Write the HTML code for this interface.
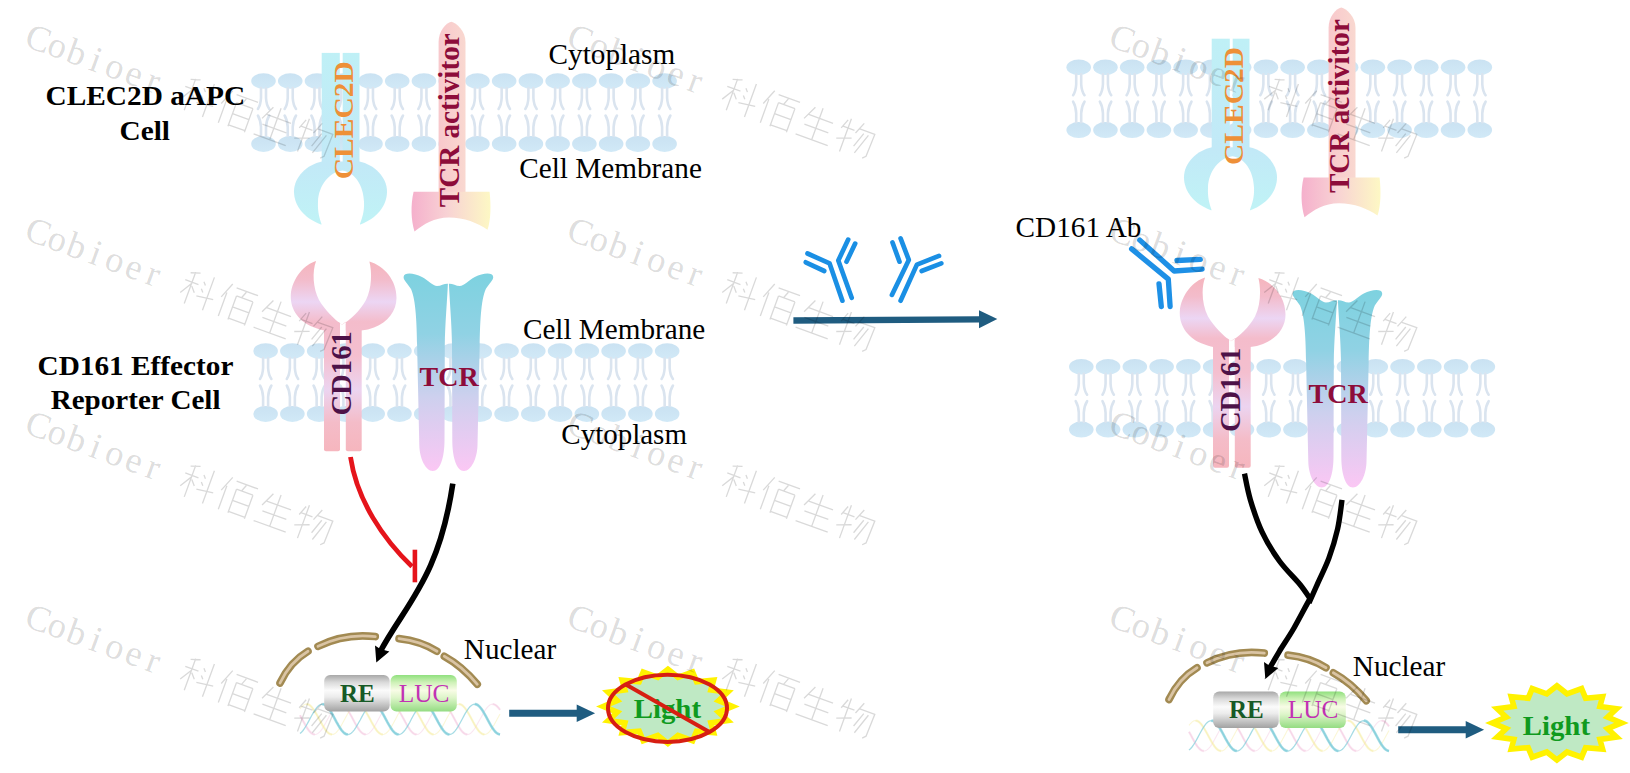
<!DOCTYPE html><html><head><meta charset="utf-8"><style>html,body{margin:0;padding:0;background:#fff;width:1630px;height:773px;overflow:hidden}svg{display:block}text{font-family:"Liberation Serif",serif}</style></head><body>
<svg width="1630" height="773" viewBox="0 0 1630 773">
<defs>

<linearGradient id="gCLEC" gradientUnits="userSpaceOnUse" x1="0" y1="53" x2="0" y2="224"><stop offset="0" stop-color="#bff0f6"/><stop offset="0.65" stop-color="#c2e9f7"/><stop offset="1" stop-color="#c0f3f6"/></linearGradient>
<linearGradient id="gHead" x1="0" y1="0" x2="0" y2="1"><stop offset="0" stop-color="#cae2f2"/><stop offset="1" stop-color="#d1e9f7"/></linearGradient>
<linearGradient id="gTcrA" x1="0" y1="0" x2="1" y2="0"><stop offset="0" stop-color="#f5b0cc"/><stop offset="0.45" stop-color="#f8d2d4"/><stop offset="1" stop-color="#fdf8c4"/></linearGradient>
<linearGradient id="gTcrBar" x1="0" y1="0" x2="1" y2="0"><stop offset="0" stop-color="#f8c8cc"/><stop offset="1" stop-color="#f9d8d0"/></linearGradient>
<linearGradient id="gTCR" gradientUnits="userSpaceOnUse" x1="0" y1="275" x2="0" y2="471"><stop offset="0" stop-color="#7ed2e0"/><stop offset="0.3" stop-color="#90d2e4"/><stop offset="0.62" stop-color="#cdd0ee"/><stop offset="1" stop-color="#fbc7f4"/></linearGradient>
<linearGradient id="gCD" gradientUnits="userSpaceOnUse" x1="0" y1="261" x2="0" y2="451"><stop offset="0" stop-color="#f5b5bd"/><stop offset="0.1" stop-color="#f3bccb"/><stop offset="0.215" stop-color="#ecd6f4"/><stop offset="0.32" stop-color="#f4bccb"/><stop offset="0.5" stop-color="#f4bfcf"/><stop offset="0.68" stop-color="#ecd4f0"/><stop offset="0.85" stop-color="#f4bcc8"/><stop offset="1" stop-color="#f6b6be"/></linearGradient>
<linearGradient id="gRE" x1="0" y1="0" x2="0" y2="1"><stop offset="0" stop-color="#a8a8a8"/><stop offset="0.2" stop-color="#dadada"/><stop offset="0.42" stop-color="#fbfbfb"/><stop offset="0.6" stop-color="#ececec"/><stop offset="1" stop-color="#a2a2a2"/></linearGradient>
<linearGradient id="gLUC" x1="0" y1="0" x2="0" y2="1"><stop offset="0" stop-color="#90e07e"/><stop offset="0.2" stop-color="#cdf1b6"/><stop offset="0.42" stop-color="#f8fce6"/><stop offset="0.62" stop-color="#def5ca"/><stop offset="1" stop-color="#94dc82"/></linearGradient>
<mask id="mHole" maskUnits="userSpaceOnUse" x="270" y="30" width="140" height="220"><rect x="270" y="30" width="140" height="220" fill="#fff"/>
<path d="M342.5,170.5 C329,172 318.5,186 318,201.7 C317.5,212 319.5,218 321.5,224 L321.5,250 L360,250 L360,224 C362,218 364.5,212 364,201.7 C363.5,186 355,172 342.5,170.5 Z" fill="#000"/></mask>

<g id="lip">
<ellipse cx="0" cy="0" rx="12.3" ry="7.8" fill="url(#gHead)"/>
<ellipse cx="0" cy="62.9" rx="12.3" ry="8" fill="url(#gHead)"/>
<g fill="none" stroke="#dae4ef" stroke-width="2.6" stroke-linecap="round">
<path d="M-2.5,7 L-2.5,17 Q-2.9,24 -5.6,28"/><path d="M2.5,7 L2.5,17 Q2.9,24 5.8,28"/>
<path d="M-2.5,55 L-2.5,46 Q-2.9,39 -5.6,34.5"/><path d="M2.5,55 L2.5,46 Q2.9,39 5.8,34.5"/>
</g></g>
<g id="memT"><use href="#lip" transform="translate(263.50,81.00)"/><use href="#lip" transform="translate(290.24,81.00)"/><use href="#lip" transform="translate(316.98,81.00)"/><use href="#lip" transform="translate(343.72,81.00)"/><use href="#lip" transform="translate(370.46,81.00)"/><use href="#lip" transform="translate(397.20,81.00)"/><use href="#lip" transform="translate(423.94,81.00)"/><use href="#lip" transform="translate(450.68,81.00)"/><use href="#lip" transform="translate(477.42,81.00)"/><use href="#lip" transform="translate(504.16,81.00)"/><use href="#lip" transform="translate(530.90,81.00)"/><use href="#lip" transform="translate(557.64,81.00)"/><use href="#lip" transform="translate(584.38,81.00)"/><use href="#lip" transform="translate(611.12,81.00)"/><use href="#lip" transform="translate(637.86,81.00)"/><use href="#lip" transform="translate(664.60,81.00)"/></g>
<g id="memB"><use href="#lip" transform="translate(265.60,351.00)"/><use href="#lip" transform="translate(292.37,351.00)"/><use href="#lip" transform="translate(319.14,351.00)"/><use href="#lip" transform="translate(345.91,351.00)"/><use href="#lip" transform="translate(372.68,351.00)"/><use href="#lip" transform="translate(399.45,351.00)"/><use href="#lip" transform="translate(426.22,351.00)"/><use href="#lip" transform="translate(452.99,351.00)"/><use href="#lip" transform="translate(479.76,351.00)"/><use href="#lip" transform="translate(506.53,351.00)"/><use href="#lip" transform="translate(533.30,351.00)"/><use href="#lip" transform="translate(560.07,351.00)"/><use href="#lip" transform="translate(586.84,351.00)"/><use href="#lip" transform="translate(613.61,351.00)"/><use href="#lip" transform="translate(640.38,351.00)"/><use href="#lip" transform="translate(667.15,351.00)"/></g>
<g id="recT">
<g fill="url(#gCLEC)" mask="url(#mHole)">
<rect x="321.7" y="52.9" width="18.1" height="125"/>
<rect x="342.7" y="52.9" width="16.8" height="125"/>
<path d="M322,161.5 C307,164.5 294,177 294,191.5 C294,206 304,218 321,224.5 L360.4,224.5 C377,218 387,206 387,191.5 C387,177 374,164.5 359.5,161.5 Z"/>
</g>
<path fill="url(#gTcrBar)" d="M438.6,200 L438.6,42 C438.6,31 446,23 451.3,21.8 C456.5,23 465.5,31 465.5,42 L465.5,200 Z"/>
<path fill="url(#gTcrA)" d="M413.6,191.7 L489.6,191.7 C491,205 491,220 487.5,229.7 C478,223 464,217.5 449,217.5 C434,217.5 424,224 414.5,231.5 C411,220 410.5,205 413.6,191.7 Z"/>
<text transform="translate(352.80,177.80) rotate(-90) scale(1.0549,1)" x="-1.40" y="0" font-size="28" font-weight="bold" fill="#ee9038" >CLEC2D</text>
<text transform="translate(458.80,206.70) rotate(-90) scale(1.0189,1)" x="-0.57" y="0" font-size="28.6" font-weight="bold" fill="#8d0c3a" >TCR activitor</text>
</g>
<g id="recB">
<g fill="url(#gCD)">
<rect x="324" y="322" width="16" height="129.3" rx="2"/>
<rect x="345.8" y="322" width="15.9" height="129.3" rx="2"/>
<path d="M316.1,261 C305,264 292,278 290.8,295 C290,310 300,322 313,327 C318,329 321,330 324.3,330.5 L340,330.5 L340,323.3 L342,324.6 L345.8,321.8 L345.8,330.5 L361.2,330.5 C366,330 370,329 374,327.5 C388,322 396.5,311 396.5,298 C396.5,280 384,266 369.4,261.6 C372,272 372,288 366,300 C360,311 350,320 342,324.8 C334,319 325,310 319,300 C313,288 312,272 316.1,261 Z"/>
</g>
<path id="tcrL" fill="url(#gTCR)" d="M403.6,277 C404,272 414,273 422,277 C428,280 433,286 437,286 C441,286 444.5,283.5 447.9,283.8 C447.2,300 445,325 444.8,345 L444.5,440 C444.5,458 440,471 432.8,471 C425.5,471 419.5,458 419.3,445 L417.1,345 C416.8,325 416,300 411,289 C408,284 403.3,280 403.6,277 Z"/>
<path fill="url(#gTCR)" transform="translate(896.8,0) scale(-1,1)" d="M403.6,277 C404,272 414,273 422,277 C428,280 433,286 437,286 C441,286 444.5,283.5 447.9,283.8 C447.2,300 445,325 444.8,345 L444.5,440 C444.5,458 440,471 432.8,471 C425.5,471 419.5,458 419.3,445 L417.1,345 C416.8,325 416,300 411,289 C408,284 403.3,280 403.6,277 Z"/>
<text transform="translate(351.20,414.20) rotate(-90) scale(1.0034,1)" x="-1.43" y="0" font-size="28.6" font-weight="bold" fill="#4d1248" >CD161</text>
<text transform="translate(420.00,386.40) scale(1.0388,1)" x="-0.54" y="0" font-size="27" font-weight="bold" fill="#8d0c3a" >TCR</text>
</g>
<g id="nuc">
<g><polyline fill="none" stroke="#f2b8d8" stroke-opacity="0.35" stroke-width="1.1" points="300.0,715.2 301.5,718.0 303.0,720.8 304.5,723.6 306.0,726.2 307.5,728.6 309.0,730.7 310.5,732.3 312.0,733.6 313.5,734.3 315.0,734.5 316.5,734.2 318.0,733.4 319.5,732.1 321.1,730.3 322.6,728.2 324.1,725.7 325.6,723.1 327.1,720.3 328.6,717.5 330.1,714.7 331.6,712.1 333.1,709.8 334.6,707.7 336.1,706.1 337.6,704.9 339.1,704.3 340.6,704.1 342.1,704.5 343.6,705.4 345.1,706.7 346.6,708.5 348.1,710.7 349.6,713.1 351.1,715.8 352.6,718.6 354.1,721.4 355.6,724.2 357.1,726.8 358.6,729.1 360.2,731.1 361.7,732.6 363.2,733.8 364.7,734.4 366.2,734.5 367.7,734.1 369.2,733.1 370.7,731.7 372.2,729.9 373.7,727.7 375.2,725.2 376.7,722.5 378.2,719.7 379.7,716.9 381.2,714.1 382.7,711.6 384.2,709.3 385.7,707.3 387.2,705.8 388.7,704.8 390.2,704.2 391.7,704.1 393.2,704.6 394.7,705.6 396.2,707.1 397.7,709.0 399.2,711.2 400.8,713.7 402.3,716.4 403.8,719.2 405.3,722.0 406.8,724.8 408.3,727.3 409.8,729.5 411.3,731.4 412.8,732.9 414.3,733.9 415.8,734.4 417.3,734.4 418.8,733.9 420.3,732.9 421.8,731.3 423.3,729.4 424.8,727.2 426.3,724.6 427.8,721.9 429.3,719.1 430.8,716.3 432.3,713.6 433.8,711.1 435.3,708.8 436.8,707.0 438.3,705.5 439.8,704.6 441.4,704.1 442.9,704.2 444.4,704.8 445.9,705.9 447.4,707.4 448.9,709.4 450.4,711.7 451.9,714.3 453.4,717.0 454.9,719.8 456.4,722.6 457.9,725.3 459.4,727.8 460.9,730.0 462.4,731.8 463.9,733.2 465.4,734.1 466.9,734.5 468.4,734.4 469.9,733.7 471.4,732.6 472.9,731.0 474.4,729.0 475.9,726.6 477.4,724.0 478.9,721.3 480.5,718.5 482.0,715.7 483.5,713.0 485.0,710.5 486.5,708.4 488.0,706.6 489.5,705.3 491.0,704.4 492.5,704.1 494.0,704.3 495.5,705.0 497.0,706.2 498.5,707.8 500.0,709.9"/><polyline fill="none" stroke="#f2b8d8" stroke-opacity="0.35" stroke-width="2.3" points="300.0,715.2 301.7,718.3 303.3,721.4 305.0,724.4 306.6,727.2 308.3,729.7 309.9,731.7 311.6,733.2 313.2,734.2 314.9,734.5"/><polyline fill="none" stroke="#f2b8d8" stroke-opacity="0.35" stroke-width="2.3" points="340.3,704.1 341.9,704.4 343.5,705.3 345.1,706.7 346.6,708.6 348.2,710.9 349.8,713.5 351.4,716.3 353.0,719.3 354.6,722.3 356.2,725.1 357.8,727.7 359.3,730.0 360.9,731.9 362.5,733.3 364.1,734.2 365.7,734.5"/><polyline fill="none" stroke="#f2b8d8" stroke-opacity="0.35" stroke-width="2.3" points="391.1,704.1 392.7,704.4 394.3,705.3 395.9,706.7 397.4,708.6 399.0,710.9 400.6,713.5 402.2,716.3 403.8,719.3 405.4,722.3 407.0,725.1 408.6,727.7 410.1,730.0 411.7,731.9 413.3,733.3 414.9,734.2 416.5,734.5"/><polyline fill="none" stroke="#f2b8d8" stroke-opacity="0.35" stroke-width="2.3" points="441.9,704.1 443.5,704.4 445.1,705.3 446.7,706.7 448.2,708.6 449.8,710.9 451.4,713.5 453.0,716.3 454.6,719.3 456.2,722.3 457.8,725.1 459.4,727.7 460.9,730.0 462.5,731.9 464.1,733.3 465.7,734.2 467.3,734.5"/><polyline fill="none" stroke="#f2b8d8" stroke-opacity="0.35" stroke-width="2.3" points="492.7,704.1 494.5,704.5 496.3,705.6 498.2,707.5 500.0,709.9"/><polyline fill="none" stroke="#f4ec98" stroke-opacity="0.4" stroke-width="1.1" points="300.0,708.9 301.5,707.0 303.0,705.6 304.5,704.6 306.0,704.1 307.5,704.2 309.0,704.8 310.5,705.9 312.0,707.4 313.5,709.4 315.0,711.7 316.5,714.2 318.0,717.0 319.5,719.8 321.1,722.6 322.6,725.3 324.1,727.7 325.6,729.9 327.1,731.8 328.6,733.2 330.1,734.1 331.6,734.5 333.1,734.4 334.6,733.7 336.1,732.6 337.6,731.0 339.1,729.0 340.6,726.7 342.1,724.1 343.6,721.3 345.1,718.5 346.6,715.7 348.1,713.1 349.6,710.6 351.1,708.4 352.6,706.7 354.1,705.3 355.6,704.5 357.1,704.1 358.6,704.3 360.2,705.0 361.7,706.2 363.2,707.8 364.7,709.8 366.2,712.2 367.7,714.8 369.2,717.6 370.7,720.4 372.2,723.2 373.7,725.8 375.2,728.2 376.7,730.4 378.2,732.1 379.7,733.4 381.2,734.2 382.7,734.5 384.2,734.3 385.7,733.5 387.2,732.3 388.7,730.6 390.2,728.5 391.7,726.1 393.2,723.5 394.7,720.7 396.2,717.9 397.7,715.1 399.2,712.5 400.8,710.1 402.3,708.0 403.8,706.3 405.3,705.1 406.8,704.3 408.3,704.1 409.8,704.4 411.3,705.2 412.8,706.5 414.3,708.2 415.8,710.3 417.3,712.7 418.8,715.4 420.3,718.2 421.8,721.0 423.3,723.8 424.8,726.4 426.3,728.7 427.8,730.8 429.3,732.4 430.8,733.6 432.3,734.3 433.8,734.5 435.3,734.2 436.8,733.3 438.3,732.0 439.8,730.2 441.4,728.0 442.9,725.6 444.4,722.9 445.9,720.1 447.4,717.3 448.9,714.5 450.4,712.0 451.9,709.6 453.4,707.6 454.9,706.0 456.4,704.9 457.9,704.2 459.4,704.1 460.9,704.5 462.4,705.4 463.9,706.8 465.4,708.6 466.9,710.8 468.4,713.3 469.9,716.0 471.4,718.8 472.9,721.6 474.4,724.3 475.9,726.9 477.4,729.2 478.9,731.2 480.5,732.7 482.0,733.8 483.5,734.4 485.0,734.5 486.5,734.0 488.0,733.0 489.5,731.6 491.0,729.7 492.5,727.5 494.0,725.0 495.5,722.3 497.0,719.5 498.5,716.7 500.0,714.0"/><polyline fill="none" stroke="#f4ec98" stroke-opacity="0.4" stroke-width="2.3" points="306.6,704.1 308.2,704.4 309.8,705.3 311.4,706.7 312.9,708.6 314.5,710.9 316.1,713.5 317.7,716.3 319.3,719.3 320.9,722.3 322.5,725.1 324.1,727.7 325.6,730.0 327.2,731.9 328.8,733.3 330.4,734.2 332.0,734.5"/><polyline fill="none" stroke="#f4ec98" stroke-opacity="0.4" stroke-width="2.3" points="357.4,704.1 359.0,704.4 360.6,705.3 362.2,706.7 363.8,708.6 365.3,710.9 366.9,713.5 368.5,716.3 370.1,719.3 371.7,722.3 373.3,725.1 374.9,727.7 376.4,730.0 378.0,731.9 379.6,733.3 381.2,734.2 382.8,734.5"/><polyline fill="none" stroke="#f4ec98" stroke-opacity="0.4" stroke-width="2.3" points="408.2,704.1 409.8,704.4 411.4,705.3 413.0,706.7 414.5,708.6 416.1,710.9 417.7,713.5 419.3,716.3 420.9,719.3 422.5,722.3 424.1,725.1 425.7,727.7 427.2,730.0 428.8,731.9 430.4,733.3 432.0,734.2 433.6,734.5"/><polyline fill="none" stroke="#f4ec98" stroke-opacity="0.4" stroke-width="2.3" points="459.0,704.1 460.6,704.4 462.2,705.3 463.8,706.7 465.4,708.6 466.9,710.9 468.5,713.5 470.1,716.3 471.7,719.3 473.3,722.3 474.9,725.1 476.5,727.7 478.0,730.0 479.6,731.9 481.2,733.3 482.8,734.2 484.4,734.5"/><polyline fill="none" stroke="#7ccbd8" stroke-opacity="0.68" stroke-width="1.3" points="300.0,733.5 301.5,732.2 303.0,730.5 304.5,728.4 306.0,726.0 307.5,723.4 309.0,720.6 310.5,717.7 312.0,715.0 313.5,712.4 315.0,710.0 316.5,707.9 318.0,706.3 319.5,705.0 321.1,704.3 322.6,704.1 324.1,704.4 325.6,705.2 327.1,706.6 328.6,708.3 330.1,710.4 331.6,712.9 333.1,715.5 334.6,718.3 336.1,721.2 337.6,723.9 339.1,726.5 340.6,728.9 342.1,730.9 343.6,732.5 345.1,733.7 346.6,734.3 348.1,734.5 349.6,734.1 351.1,733.2 352.6,731.9 354.1,730.1 355.6,727.9 357.1,725.4 358.6,722.8 360.2,720.0 361.7,717.1 363.2,714.4 364.7,711.8 366.2,709.5 367.7,707.5 369.2,705.9 370.7,704.8 372.2,704.2 373.7,704.1 375.2,704.6 376.7,705.5 378.2,706.9 379.7,708.8 381.2,711.0 382.7,713.5 384.2,716.1 385.7,719.0 387.2,721.8 388.7,724.5 390.2,727.0 391.7,729.3 393.2,731.3 394.7,732.8 396.2,733.9 397.7,734.4 399.2,734.5 400.8,734.0 402.3,733.0 403.8,731.5 405.3,729.6 406.8,727.4 408.3,724.9 409.8,722.2 411.3,719.3 412.8,716.5 414.3,713.8 415.8,711.3 417.3,709.0 418.8,707.1 420.3,705.7 421.8,704.7 423.3,704.2 424.8,704.2 426.3,704.7 427.8,705.8 429.3,707.3 430.8,709.2 432.3,711.5 433.8,714.0 435.3,716.8 436.8,719.6 438.3,722.4 439.8,725.1 441.4,727.6 442.9,729.8 444.4,731.6 445.9,733.1 447.4,734.0 448.9,734.5 450.4,734.4 451.9,733.8 453.4,732.7 454.9,731.1 456.4,729.2 457.9,726.9 459.4,724.3 460.9,721.5 462.4,718.7 463.9,715.9 465.4,713.2 466.9,710.8 468.4,708.6 469.9,706.8 471.4,705.4 472.9,704.5 474.4,704.1 475.9,704.3 477.4,704.9 478.9,706.1 480.5,707.7 482.0,709.7 483.5,712.0 485.0,714.6 486.5,717.4 488.0,720.2 489.5,723.0 491.0,725.6 492.5,728.1 494.0,730.2 495.5,732.0 497.0,733.3 498.5,734.2 500.0,734.5"/><polyline fill="none" stroke="#7ccbd8" stroke-opacity="0.68" stroke-width="2.7" points="322.4,704.1 324.0,704.4 325.6,705.3 327.2,706.7 328.8,708.6 330.3,710.9 331.9,713.5 333.5,716.3 335.1,719.3 336.7,722.3 338.3,725.1 339.9,727.7 341.4,730.0 343.0,731.9 344.6,733.3 346.2,734.2 347.8,734.5"/><polyline fill="none" stroke="#7ccbd8" stroke-opacity="0.68" stroke-width="2.7" points="373.2,704.1 374.8,704.4 376.4,705.3 378.0,706.7 379.5,708.6 381.1,710.9 382.7,713.5 384.3,716.3 385.9,719.3 387.5,722.3 389.1,725.1 390.7,727.7 392.2,730.0 393.8,731.9 395.4,733.3 397.0,734.2 398.6,734.5"/><polyline fill="none" stroke="#7ccbd8" stroke-opacity="0.68" stroke-width="2.7" points="424.0,704.1 425.6,704.4 427.2,705.3 428.8,706.7 430.4,708.6 431.9,710.9 433.5,713.5 435.1,716.3 436.7,719.3 438.3,722.3 439.9,725.1 441.5,727.7 443.0,730.0 444.6,731.9 446.2,733.3 447.8,734.2 449.4,734.5"/><polyline fill="none" stroke="#7ccbd8" stroke-opacity="0.68" stroke-width="2.7" points="474.8,704.1 476.4,704.4 477.9,705.2 479.5,706.6 481.1,708.5 482.7,710.8 484.2,713.4 485.8,716.2 487.4,719.1 489.0,722.1 490.5,724.9 492.1,727.5 493.7,729.8 495.3,731.8 496.9,733.2 498.4,734.1 500.0,734.5"/></g>
<g fill="none" stroke-linecap="round">
<g stroke="#a28a52" stroke-width="7.6"><path d="M280,683 Q290,662 308,651.3"/><path d="M318,646.3 Q345,633 375.3,636.6"/><path d="M399,638.6 Q421,641 437,651.3"/><path d="M444.3,656.3 Q462,666 477.3,684.3"/></g>
<g stroke="#dac4a4" stroke-width="2.8"><path d="M280,683 Q290,662 308,651.3"/><path d="M318,646.3 Q345,633 375.3,636.6"/><path d="M399,638.6 Q421,641 437,651.3"/><path d="M444.3,656.3 Q462,666 477.3,684.3"/></g>
</g>
<rect x="324.2" y="675" width="65.5" height="36.5" rx="6" fill="url(#gRE)"/>
<rect x="390.5" y="675" width="66.3" height="36.5" rx="6" fill="url(#gLUC)"/>
<text transform="translate(340.40,701.70) scale(1.0235,1)" x="-0.49" y="0" font-size="24.5" font-weight="bold" fill="#175a26" >RE</text>
<text transform="translate(399.40,701.70) scale(1.0364,1)" x="-0.73" y="0" font-size="24.5" font-weight="normal" fill="#c232b4" >LUC</text>
<text transform="translate(464.70,659.40) scale(1.0235,1)" x="-0.85" y="0" font-size="28.5" font-weight="normal" fill="#000" >Nuclear</text>
<path fill="#1f5c80" d="M509.2,709.8 L576.7,709.8 L576.7,704.5 L595.1,713.3 L576.7,722.1 L576.7,716.7 L509.2,716.7 Z"/>
</g>
<g id="burst">
<polygon points="667.9,669.3 678.0,677.3 692.6,672.1 696.6,681.7 713.6,680.2 710.9,689.9 727.6,692.2 718.6,700.6 732.5,706.4 718.6,712.2 727.6,720.6 710.9,722.9 713.6,732.6 696.6,731.1 692.6,740.7 678.0,735.5 667.9,743.5 657.8,735.5 643.2,740.7 639.2,731.1 622.2,732.6 624.9,722.9 608.2,720.6 617.2,712.2 603.3,706.4 617.2,700.6 608.2,692.2 624.9,689.9 622.2,680.2 639.2,681.7 643.2,672.1 657.8,677.3" fill="#bfe9c4" stroke="#fff200" stroke-width="5.6" stroke-linejoin="miter"/>
<text transform="translate(634.20,718.30) scale(1.0312,1)" x="-0.56" y="0" font-size="28" font-weight="bold" fill="#0f9a1e" >Light</text>
</g>
<g id="wm"><text x="-2.0 21.5 41.9 66.3 82.7 104.1 126.5" y="0" font-size="36.5" fill="#000" fill-opacity="0.15">Cobioer</text><path transform="translate(161.2,-31) scale(0.38)" d="M15,14 L40,6 M8,36 L45,36 M27,8 L27,96 M27,40 L7,72 M30,46 L42,60 M56,24 L63,32 M56,44 L63,52 M50,66 L95,60 M78,4 L78,96" fill="none" stroke="#000" stroke-opacity="0.15" stroke-width="3.5"/><path transform="translate(202.0,-31) scale(0.38)" d="M22,4 L5,46 M15,30 L15,96 M35,10 L95,10 M63,12 L56,30 M42,30 L42,96 M88,30 L88,96 M42,30 L88,30 M42,61 L88,61 M42,92 L88,92" fill="none" stroke="#000" stroke-opacity="0.15" stroke-width="3.5"/><path transform="translate(242.8,-31) scale(0.38)" d="M30,8 L12,46 M20,32 L88,32 M50,4 L50,92 M18,60 L85,60 M5,92 L95,92" fill="none" stroke="#000" stroke-opacity="0.15" stroke-width="3.5"/><path transform="translate(283.6,-31) scale(0.38)" d="M15,10 L5,36 M8,30 L40,30 M22,4 L22,96 M2,66 L40,52 M58,4 L45,36 M52,22 L94,22 L92,84 L84,92 M66,30 L52,70 M79,30 L60,86" fill="none" stroke="#000" stroke-opacity="0.15" stroke-width="3.5"/></g>
</defs>
<use href="#memT"/>
<use href="#memT" transform="translate(815.2,-13.8)"/>
<use href="#memB"/>
<use href="#memB" transform="translate(815.7,15.7)"/>
<use href="#recT"/>
<use href="#recT" transform="translate(890,-14.2)"/>
<use href="#recB"/>
<use href="#recB" transform="translate(889,16.5)"/>
<use href="#nuc"/>
<use href="#nuc" transform="translate(889,16.5)"/>
<use href="#burst"/>
<use href="#burst" transform="translate(889,16.5)"/>
<g fill="none" stroke-linecap="butt">
<path d="M350.5,457 C357,500.6 383.4,539.2 412,566.5" stroke="#e5141b" stroke-width="4.8"/>
<path d="M414.9,549.7 L414.9,582.3" stroke="#e5141b" stroke-width="4.6"/>
<path d="M452.8,483.6 C438.7,578.4 406.4,602.9 380,652" stroke="#000" stroke-width="5.6"/>
</g>
<path d="M376.3,662.4 L375,645.4 Q379,648.5 382.4,649.6 Q385.5,650.5 389.4,651.4 Z" fill="#000"/>
<g fill="none" stroke="#d71e12" stroke-width="4">
<ellipse cx="667.5" cy="708.3" rx="59.5" ry="33.6"/>
<path d="M625.8,684.5 L709.4,732"/>
</g>
<g fill="none" stroke="#1a8fe4" stroke-width="4.7" stroke-linecap="round" stroke-linejoin="round">
<polyline points="807.5,253.5 829.6,263.4 842.4,300.7"/>
<polyline points="805.7,262.3 824.3,271"/>
<polyline points="848.2,239.6 838.3,260.5 851.7,297.8"/>
<polyline points="855.2,243.6 846.5,261.7"/>
<polyline points="900.6,238.4 908.8,259.9 891.9,294.9"/>
<polyline points="892.5,242.5 899.5,261.7"/>
<polyline points="939,255.9 916.9,264.6 900.6,300.7"/>
<polyline points="941.4,263.4 921.6,271"/>
</g>
<path fill="#1f5c80" d="M793.4,317.2 L979,316.2 L979,310.2 L997.3,319 L979,328.2 L979,322.6 L793.4,323.7 Z"/>
<g fill="none" stroke="#1e90e6" stroke-width="5.3" stroke-linecap="round" stroke-linejoin="round">
<polyline points="1131.6,248.9 1168.3,279.1 1170.1,306.5"/>
<polyline points="1159,283.8 1161.3,306.5"/>
<polyline points="1139.8,240.1 1174.1,271 1202.1,269.2"/>
<polyline points="1177,260.5 1200.3,259.3"/>
</g>
<g fill="none" stroke="#000" stroke-width="5.4">
<path d="M1244.5,473.7 C1245.5,478.1 1247.5,490.2 1250.4,499.9 C1253.3,509.6 1257.2,521.7 1262.0,531.9 C1266.8,542.1 1273.1,552.3 1279.4,561.0 C1285.7,569.7 1294.5,577.8 1299.8,584.3 C1305.1,590.8 1309.1,597.4 1311.0,600.0"/>
<path d="M1342.0,499.9 C1341.3,504.8 1339.8,519.3 1337.6,529.0 C1335.4,538.7 1332.3,548.9 1328.9,558.1 C1325.5,567.3 1320.6,576.8 1317.3,584.3 C1314.0,591.8 1310.4,599.9 1309.0,603.0"/>
<path d="M1311,597 C1307.3,603.0 1299.1,619.1 1294.0,628.0 C1288.9,636.9 1283.1,645.1 1279.4,651.3 C1275.7,657.5 1272,664.5 1269.5,668"/>
</g>
<path d="M1265.3,678.9 L1264,661.9 Q1268,665 1271.4,666.1 Q1274.5,667 1278.4,667.9 Z" fill="#000"/>

<g>
<text transform="translate(46.90,104.60) scale(1.0484,1)" x="-1.40" y="0" font-size="28" font-weight="bold" fill="#000" >CLEC2D aAPC</text>
<text transform="translate(121.00,139.80) scale(1.0478,1)" x="-1.40" y="0" font-size="28" font-weight="bold" fill="#000" >Cell</text>
<text transform="translate(549.70,64.00) scale(1.0256,1)" x="-1.14" y="0" font-size="28.5" font-weight="normal" fill="#000" >Cytoplasm</text>
<text transform="translate(520.40,177.60) scale(1.0259,1)" x="-1.14" y="0" font-size="28.5" font-weight="normal" fill="#000" >Cell Membrane</text>
<text transform="translate(524.10,338.60) scale(1.0242,1)" x="-1.14" y="0" font-size="28.5" font-weight="normal" fill="#000" >Cell Membrane</text>
<text transform="translate(562.50,444.00) scale(1.0174,1)" x="-1.14" y="0" font-size="28.5" font-weight="normal" fill="#000" >Cytoplasm</text>
<text transform="translate(39.00,375.30) scale(1.0350,1)" x="-1.42" y="0" font-size="28.3" font-weight="bold" fill="#000" >CD161 Effector</text>
<text transform="translate(51.30,409.40) scale(1.0388,1)" x="-0.56" y="0" font-size="28" font-weight="bold" fill="#000" >Reporter Cell</text>
<text transform="translate(1016.70,236.60) scale(1.0261,1)" x="-1.14" y="0" font-size="28.5" font-weight="normal" fill="#000" >CD161 Ab</text>
</g>
<use href="#wm" transform="translate(25,46.5) rotate(20)"/>
<use href="#wm" transform="translate(25,239.8) rotate(20)"/>
<use href="#wm" transform="translate(25,433.1) rotate(20)"/>
<use href="#wm" transform="translate(25,626.4) rotate(20)"/>
<use href="#wm" transform="translate(567,46.5) rotate(20)"/>
<use href="#wm" transform="translate(567,239.8) rotate(20)"/>
<use href="#wm" transform="translate(567,433.1) rotate(20)"/>
<use href="#wm" transform="translate(567,626.4) rotate(20)"/>
<use href="#wm" transform="translate(1109,46.5) rotate(20)"/>
<use href="#wm" transform="translate(1109,239.8) rotate(20)"/>
<use href="#wm" transform="translate(1109,433.1) rotate(20)"/>
<use href="#wm" transform="translate(1109,626.4) rotate(20)"/>
</svg></body></html>
